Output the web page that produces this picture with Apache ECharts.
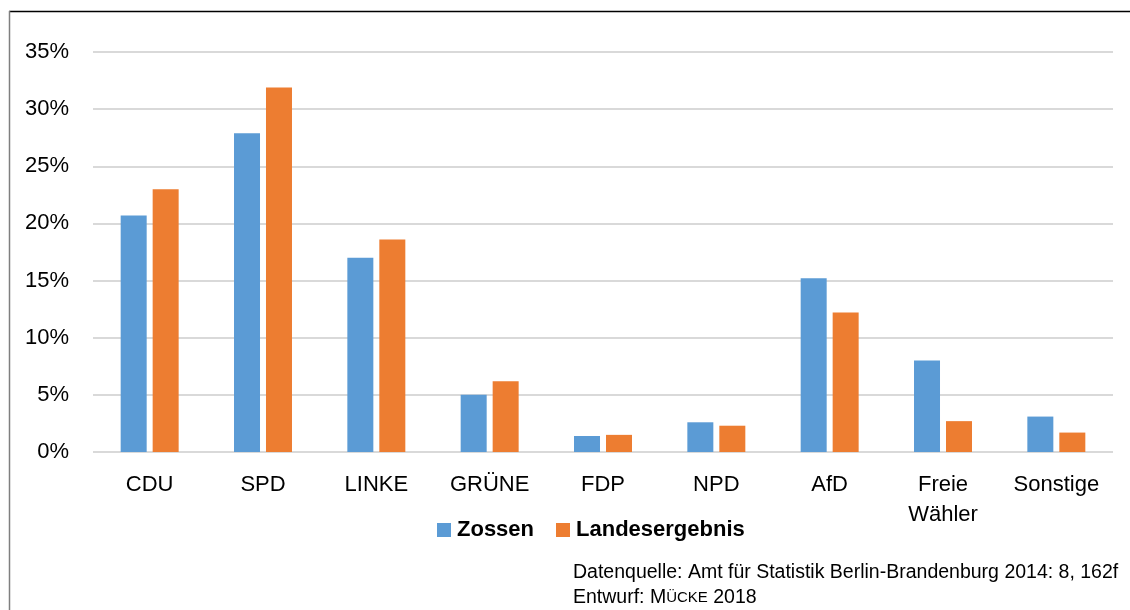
<!DOCTYPE html>
<html>
<head>
<meta charset="utf-8">
<script src="https://cdn.jsdelivr.net/npm/echarts@6/dist/echarts.min.js"></script>
<style>
  html, body { margin: 0; padding: 0; background: #fff; }
  #chart { width: 1130px; height: 610px; }
</style>
</head>
<body>
<div id="chart"></div>
<script>
  // Parteien und Ergebnisse (Landtagswahl 2014, Zweitstimmen in %)
  const categories = ['CDU', 'SPD', 'LINKE', 'GRÜNE', 'FDP', 'NPD', 'AfD', 'Freie\nWähler', 'Sonstige'];
  const zossen = [20.7, 27.9, 17.0, 5.0, 1.4, 2.6, 15.2, 8.0, 3.1];
  const landesergebnis = [23.0, 31.9, 18.6, 6.2, 1.5, 2.3, 12.2, 2.7, 1.7];
  const seriesNames = ['Zossen', 'Landesergebnis'];

  const font = '"Liberation Sans Narrow", "Liberation Sans", Arial, sans-serif';

  let myChart = echarts.init(document.getElementById('chart'));
  let option = {
    animation: false,
    textStyle: { fontFamily: font },
    grid: {
      left: 93,
      right: 17,
      top: 52,
      bottom: 158
    },
    legend: {
      left: 432,
      top: 514,
      itemWidth: 14,
      itemHeight: 14,
      itemGap: 22,
      icon: 'rect',
      data: seriesNames,
      textStyle: {
        fontFamily: font,
        fontSize: 22,
        fontWeight: 'bold',
        color: '#000',
        padding: [0, 0, 0, 1]
      }
    },
    xAxis: {
      type: 'category',
      data: categories,
      axisLine: { show: false },
      axisTick: { show: false },
      axisLabel: {
        margin: 18,
        fontSize: 22,
        lineHeight: 30,
        color: '#000',
        fontFamily: font
      }
    },
    yAxis: {
      type: 'value',
      min: 0,
      max: 35,
      interval: 5,
      axisLine: { show: false },
      axisTick: { show: false },
      axisLabel: {
        formatter: '{value}%',
        margin: 24,
        fontSize: 22,
        color: '#000',
        fontFamily: font
      },
      splitLine: {
        lineStyle: { color: '#d9d9d9', width: 2 }
      }
    },
    series: [{
      name: seriesNames[0],
      type: 'bar',
      data: zossen,
      barWidth: 26,
      barGap: '23%',
      itemStyle: { color: '#5b9bd5' }
    }, {
      name: seriesNames[1],
      type: 'bar',
      data: landesergebnis,
      barWidth: 26,
      itemStyle: { color: '#ed7d31' }
    }],
    graphic: [
      // Rahmen oben und links
      { type: 'line', shape: { x1: 9, y1: 11.5, x2: 1130, y2: 11.5 }, style: { stroke: '#000', lineWidth: 1.5 } },
      { type: 'line', shape: { x1: 9.5, y1: 11, x2: 9.5, y2: 610 }, style: { stroke: '#7f7f7f', lineWidth: 1.5 } },
      {
        type: 'text',
        left: 573,
        top: 560,
        style: {
          text: 'Datenquelle: Amt für Statistik Berlin-Brandenburg 2014: 8, 162f\n{n|Entwurf: M}{s|ÜCKE}{n| 2018}',
          font: '19.5px ' + font,
          fill: '#000',
          lineHeight: 25,
          rich: {
            n: { fontSize: 19.5, fontFamily: font, fill: '#000' },
            s: { fontSize: 15, fontFamily: font, fill: '#000' }
          }
        }
      }
    ]
  };
  myChart.setOption(option);
</script>
</body>
</html>
